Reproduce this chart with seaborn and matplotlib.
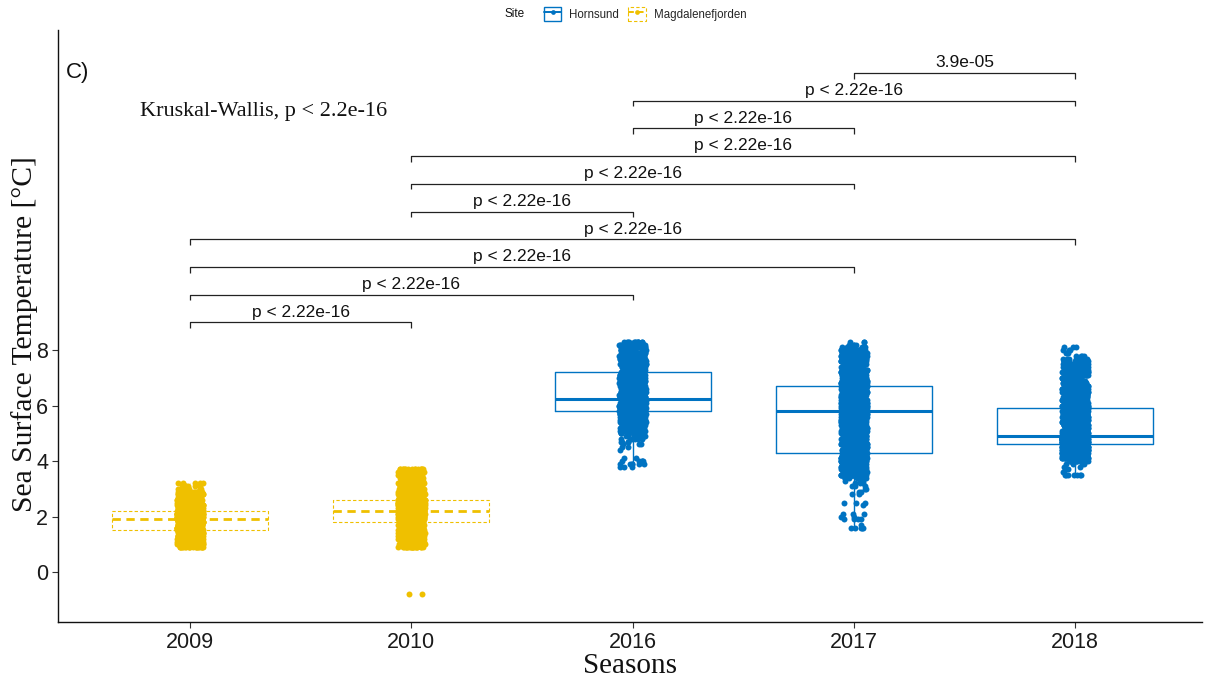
import numpy as np
import pandas as pd
import matplotlib
matplotlib.use("Agg")
import matplotlib.pyplot as plt
import seaborn as sns
from matplotlib.patches import Rectangle
from matplotlib.lines import Line2D
from matplotlib.legend_handler import HandlerTuple

# ---- data -------------------------------------------------------------
seasons = ["2009", "2010", "2016", "2017", "2018"]
season_site = ["Magdalenefjorden", "Magdalenefjorden", "Hornsund", "Hornsund", "Hornsund"]
sites = ["Hornsund", "Magdalenefjorden"]
site_colors = ["#0073C2", "#EFC000"]

# sea surface temperature readings (0.1 °C resolution) and how often each occurs
temp_2009 = [0.9, 1.0, 1.1, 1.2, 1.3, 1.4, 1.5, 1.6, 1.7, 1.8, 1.9, 2.0, 2.1, 2.2, 2.3, 2.4,
             2.5, 2.6, 2.7, 2.8, 2.9, 3.0, 3.1, 3.2]
n_2009 = [20, 25, 30, 35, 40, 50, 50, 60, 70, 80, 85, 80, 70, 70, 50, 28,
          25, 20, 18, 16, 14, 12, 8, 5]

temp_2010 = [-0.8, 0.9, 1.0, 1.1, 1.2, 1.3, 1.4, 1.5, 1.6, 1.7, 1.8, 1.9, 2.0, 2.1, 2.2,
             2.3, 2.4, 2.5, 2.6, 2.7, 2.8, 2.9, 3.0, 3.1, 3.2, 3.3, 3.4, 3.5, 3.6, 3.7]
n_2010 = [2, 20, 20, 22, 24, 26, 30, 35, 40, 50, 60, 70, 80, 85, 85,
          80, 70, 60, 50, 40, 35, 30, 26, 24, 22, 20, 20, 20, 20, 15]

temp_2016 = [3.8, 3.9, 4.0, 4.1, 4.2, 4.3, 4.4, 4.5, 4.6, 4.7, 4.8, 4.9, 5.0, 5.1, 5.2, 5.3,
             5.4, 5.5, 5.6, 5.7, 5.8, 5.9, 6.0, 6.1, 6.2, 6.3, 6.4, 6.5, 6.6, 6.7, 6.8, 6.9,
             7.0, 7.1, 7.2, 7.3, 7.4, 7.5, 7.6, 7.7, 7.8, 7.9, 8.0, 8.1, 8.2, 8.3]
n_2016 = [3, 6, 5, 2, 0, 0, 1, 2, 3, 4, 6, 8, 12, 18, 24, 32,
          40, 42, 44, 44, 60, 60, 60, 60, 58, 50, 36, 34, 32, 30, 29, 28,
          27, 26, 26, 28, 28, 28, 28, 28, 27, 26, 25, 24, 22, 12]

temp_2017 = [1.5, 1.6, 1.7, 1.8, 1.9, 2.0, 2.1, 2.2, 2.3, 2.4, 2.5, 2.6, 2.7, 2.8, 2.9, 3.0,
             3.1, 3.2, 3.3, 3.4, 3.5, 3.6, 3.7, 3.8, 3.9, 4.0, 4.1, 4.2, 4.3, 4.4, 4.5, 4.6,
             4.7, 4.8, 4.9, 5.0, 5.1, 5.2, 5.3, 5.4, 5.5, 5.6, 5.7, 5.8, 5.9, 6.0, 6.1, 6.2,
             6.3, 6.4, 6.5, 6.6, 6.7, 6.8, 6.9, 7.0, 7.1, 7.2, 7.3, 7.4, 7.5, 7.6, 7.7, 7.8,
             7.9, 8.0, 8.1, 8.2, 8.3]
n_2017 = [0, 5, 1, 0, 4, 2, 3, 0, 0, 1, 3, 0, 0, 2, 2, 2,
          3, 3, 4, 8, 20, 30, 40, 45, 48, 50, 51, 51, 24, 25, 25, 26,
          26, 26, 26, 27, 27, 27, 26, 26, 26, 26, 27, 42, 43, 44, 44, 44,
          43, 43, 42, 42, 35, 35, 35, 35, 29, 28, 27, 26, 25, 24, 23, 22,
          20, 18, 12, 5, 3]

temp_2018 = [3.5, 3.6, 3.7, 3.8, 3.9, 4.0, 4.1, 4.2, 4.3, 4.4, 4.5, 4.6, 4.7, 4.8, 4.9, 5.0,
             5.1, 5.2, 5.3, 5.4, 5.5, 5.6, 5.7, 5.8, 5.9, 6.0, 6.1, 6.2, 6.3, 6.4, 6.5, 6.6,
             6.7, 6.8, 6.9, 7.0, 7.1, 7.2, 7.3, 7.4, 7.5, 7.6, 7.7, 7.8, 7.9, 8.0, 8.1]
n_2018 = [7, 2, 1, 2, 4, 15, 30, 45, 60, 75, 82, 90, 120, 128, 128, 45,
          45, 38, 36, 39, 38, 36, 35, 33, 30, 30, 28, 26, 25, 24, 22, 21,
          21, 19, 19, 18, 18, 18, 17, 17, 15, 14, 10, 4, 3, 3, 3]

# pairwise Wilcoxon comparisons, top bracket first
pair_a = ["2017", "2016", "2016", "2010", "2010", "2010", "2009", "2009", "2009", "2009"]
pair_b = ["2018", "2018", "2017", "2018", "2017", "2016", "2018", "2017", "2016", "2010"]
pair_p = ["3.9e-05", "p < 2.22e-16", "p < 2.22e-16", "p < 2.22e-16", "p < 2.22e-16",
          "p < 2.22e-16", "p < 2.22e-16", "p < 2.22e-16", "p < 2.22e-16", "p < 2.22e-16"]
global_test = "Kruskal-Wallis, p < 2.2e-16"

# ---- long table -------------------------------------------------------
readings = {"2009": (temp_2009, n_2009), "2010": (temp_2010, n_2010),
            "2016": (temp_2016, n_2016), "2017": (temp_2017, n_2017),
            "2018": (temp_2018, n_2018)}
frames = []
for season, site in zip(seasons, season_site):
    t, n = readings[season]
    frames.append(pd.DataFrame({"Season": season, "Site": site,
                                "SST": np.repeat(t, n)}))
df = pd.concat(frames, ignore_index=True)

# ---- figure -----------------------------------------------------------
sns.set_style("ticks")
plt.rcParams["font.family"] = ["Liberation Sans", "DejaVu Sans"]
serif = ["Liberation Serif", "DejaVu Serif"]
np.random.seed(11)

W, H = 1207, 678
fig = plt.figure(figsize=(W / 100, H / 100), dpi=100)
ax = fig.add_axes([58 / W, 56 / H, 1144 / W, 592 / H])

dash = (0, (3, 2))
styles = {"Hornsund": dict(ls="-", lw=1.0, mlw=2.2),
          "Magdalenefjorden": dict(ls=dash, lw=0.8, mlw=2.0)}

for site, col in zip(sites, site_colors):
    sub = df[df["Site"] == site]
    st = styles[site]
    sns.boxplot(data=sub, x="Season", y="SST", order=seasons, color=col,
                fill=False, width=0.705, showfliers=False, showcaps=False,
                linewidth=st["lw"],
                boxprops=dict(linestyle=st["ls"], color=col, linewidth=st["lw"]),
                whiskerprops=dict(linestyle=st["ls"], color=col, linewidth=st["lw"]),
                medianprops=dict(linestyle=st["ls"], color=col, linewidth=st["mlw"]),
                ax=ax)

for site, col in zip(sites, site_colors):
    sub = df[df["Site"] == site]
    sns.stripplot(data=sub, x="Season", y="SST", order=seasons, color=col,
                  jitter=0.06, size=4.3, linewidth=0, ax=ax, zorder=3)

# significance brackets
xpos = {s: i for i, s in enumerate(seasons)}
top_level, step, tip = 18.0, 1.0, 0.2
for k, (a, b, lab) in enumerate(zip(pair_a, pair_b, pair_p)):
    y = top_level - k * step
    x0, x1 = xpos[a], xpos[b]
    ax.plot([x0, x0, x1, x1], [y - tip, y, y, y - tip], color="#222222",
            lw=0.9, solid_capstyle="butt", zorder=4)
    ax.text((x0 + x1) / 2, y + 0.1, lab, ha="center", va="bottom",
            fontsize=12.5, color="#111111")

ax.text(-0.226, 16.62, global_test, ha="left", va="center",
        fontsize=16, family=serif, color="#111111")
ax.text(-0.563, 18.0, "C)", ha="left", va="center", fontsize=16, color="#111111")

# axes
ax.set_xlim(-0.597, 4.574)
ax.set_ylim(-1.803, 19.55)
ax.set_yticks([0, 2, 4, 6, 8])
sns.despine(ax=ax)
for side in ("left", "bottom"):
    ax.spines[side].set_color("#111111")
    ax.spines[side].set_linewidth(1.0)
ax.tick_params(length=4, width=0.8, color="#333333", labelsize=15.5,
               labelcolor="#1a1a1a", pad=3)
ax.set_xlabel("Seasons", fontsize=21, family=serif, labelpad=0, color="#111111")
ax.set_ylabel("Sea Surface Temperature [°C]", fontsize=21.3, family=serif,
              color="#111111")
ax.yaxis.set_label_coords(-0.0175, 0.487)

# legend along the top
handles = []
for site, col in zip(sites, site_colors):
    st = styles[site]
    box = Rectangle((0, 0), 1, 1, facecolor="white", edgecolor=col,
                    linewidth=st["lw"], linestyle=st["ls"])
    mid = Line2D([], [], color=col, lw=1.4, linestyle=st["ls"], marker="o",
                 markersize=3.4, markeredgewidth=0)
    handles.append((box, mid))
fig.text(505 / W, 1 - 14 / H, "Site", ha="left", va="center", fontsize=8.5,
         color="#111111")
fig.legend(handles, sites, loc="center left", bbox_to_anchor=(544 / W, 1 - 14 / H),
           ncol=2, frameon=False, fontsize=8.3, handlelength=1.5, handleheight=1.5,
           columnspacing=0.8, handletextpad=0.7, borderaxespad=0, borderpad=0,
           handler_map={tuple: HandlerTuple(ndivide=1, pad=0)})

fig.savefig("out.png", dpi=100, facecolor="white")
